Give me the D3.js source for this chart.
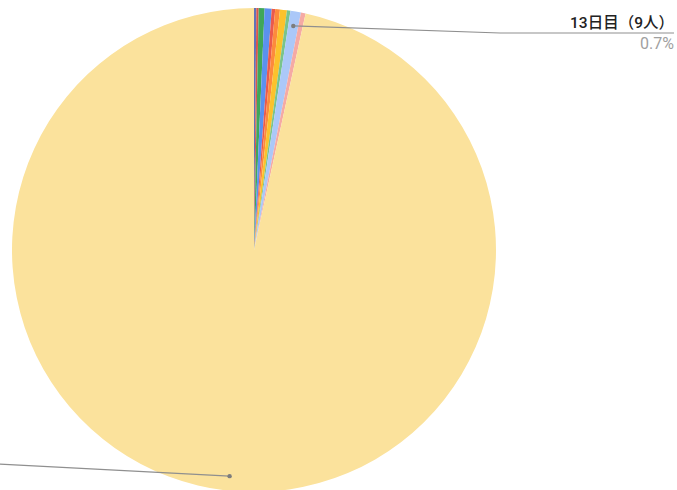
<!DOCTYPE html>
<html>
<head>
<meta charset="utf-8">
<script src="https://cdn.jsdelivr.net/npm/d3@7"></script>
<style>
    body { margin: 0; background: #fff; }
    svg { display: block; font-family: Roboto, "Noto Sans CJK JP", sans-serif; }
</style>
</head>
<body>
<svg id="chart" width="677" height="490"></svg>
<script>
// slices in sheet order, clockwise from 12 o'clock
const labels = ["5日目", "6日目", "7日目", "8日目", "9日目", "10日目", "11日目", "12日目", "13日目", "14日目", "1日目"];
const counts = [2, 2, 5, 6, 3, 4, 6, 3, 9, 4, 1242];
const colors = ["#6272b8", "#d9574b", "#3fa75a", "#5b91ef", "#ea5a4c", "#fd8a3c", "#fbc22c", "#79c48c", "#abc8f8", "#f5aaa4", "#fbe29c"];
const shownLabels = ["13日目", "1日目"];

const width = 677, height = 490;
const cx = 254, cy = 250, radius = 242;

const data = labels.map((d, i) => ({ name: d, value: counts[i], color: colors[i] }));
const total = d3.sum(counts);

const svg = d3.select("#chart");

const pie = d3.pie()
    .value(d => d.value)
    .sort(null)
    .startAngle(0)
    .endAngle(2 * Math.PI);

const arc = d3.arc()
    .innerRadius(0)
    .outerRadius(radius);

const dotArc = d3.arc()
    .innerRadius(radius * 0.94)
    .outerRadius(radius * 0.94);

const g = svg.append("g")
    .attr("transform", `translate(${cx}, ${cy})`);

const arcs = pie(data);

g.selectAll("path.slice")
    .data(arcs)
    .enter()
    .append("path")
    .attr("class", "slice")
    .attr("d", arc)
    .attr("fill", d => d.data.color);

// leader lines
const lineColor = "#8f8f8f";
const pct = v => (v / total * 100).toFixed(1) + "%";

function label_layout(d) {
    const [x, y] = dotArc.centroid(d);
    const px = cx + x, py = cy + y;
    if (d.data.name == "13日目") {
        // right side label
        return { pts: [[px, py], [500, 33], [674, 33]], tx: 674, ty: 28, show: true };
    }
    // big slice: its label sits past the left edge, only the line shows
    return { pts: [[px, py], [-60, 461], [-80, 461]], show: false };
}

const labelled = arcs.filter(d => shownLabels.includes(d.data.name));

const lg = svg.append("g").classed("labels", true);

labelled.forEach(d => {
    const L = label_layout(d);
    lg.append("path")
        .attr("d", d3.line()(L.pts))
        .attr("fill", "none")
        .attr("stroke", lineColor)
        .attr("stroke-width", 1.2);
    lg.append("circle")
        .attr("cx", L.pts[0][0])
        .attr("cy", L.pts[0][1])
        .attr("r", 2.2)
        .attr("fill", "#7d7d7d");
    if (!L.show) return;
    lg.append("text")
        .attr("x", L.tx)
        .attr("y", L.ty)
        .attr("text-anchor", "end")
        .attr("font-size", 15.5)
        .attr("font-weight", 500)
        .attr("fill", "#222")
        .text(`${d.data.name}（${d.data.value}人）`);
    lg.append("text")
        .attr("x", L.tx)
        .attr("y", L.ty + 21)
        .attr("text-anchor", "end")
        .attr("font-size", 16)
        .attr("fill", "#a0a0a0")
        .text(pct(d.data.value));
});
</script>
</body>
</html>
